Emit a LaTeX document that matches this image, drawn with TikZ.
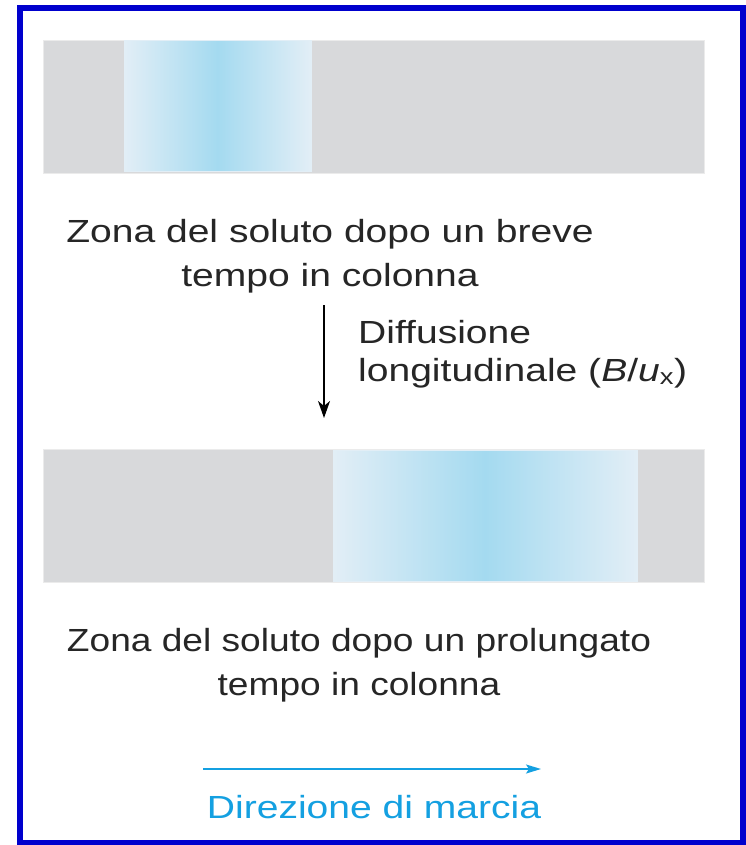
\documentclass[tikz,border=0pt]{standalone}
\usepackage{fontspec}
\setmainfont[FakeStretch=1.22]{Liberation Sans}
\newfontfamily\narrowsans[FakeStretch=1.16]{Liberation Sans}
\usetikzlibrary{arrows.meta}
\definecolor{frameblue}{RGB}{0,0,205}
\definecolor{bargray}{RGB}{216,217,219}
\definecolor{zoneedge}{RGB}{226,238,246}
\definecolor{zonepeak}{RGB}{164,218,240}
\definecolor{cyanarrow}{RGB}{20,160,225}
\tikzset{
  bar/.style={fill=bargray, draw=black!8, line width=0.8pt},
  zone/.style={left color=zoneedge, right color=zoneedge, middle color=zonepeak, draw=zoneedge, line width=1pt},
  label/.style={font=\fontsize{32}{44}\selectfont, text=black!85, inner sep=0pt},
}
\begin{document}
\begin{tikzpicture}[x=1pt,y=-1pt]
\useasboundingbox (0,0) rectangle (745,845);
\fill[white] (0,0) rectangle (745,845);
\draw[frameblue, line width=6pt] (19.5,8) rectangle (743,843);
% top column
\fill[bar] (43,40) rectangle (704,173);
\shade[zone] (124,41) rectangle (311,172);
\node[label, align=center, anchor=base] (t1) at (330,286) {Zona del soluto dopo un breve\\tempo in colonna};
\coordinate (a1s) at (324,305);
\coordinate (a1e) at (324,418);
\draw[line width=1.6pt, -{Stealth[length=17pt,width=12pt,inset=5pt]}] (a1s) -- (a1e);
\node[label, align=left, anchor=base west, font=\fontsize{32}{38}\selectfont] (diff) at (358,381) {Diffusione\\longitudinale (\textit{B}/\textit{u}\textsubscript{x})};
% bottom column
\fill[bar] (43,449) rectangle (704,582);
\shade[zone] (333,450) rectangle (637,581);
\node[label, align=center, anchor=base, font=\narrowsans\fontsize{32}{44}\selectfont] (t2) at (359,695) {Zona del soluto dopo un prolungato\\tempo in colonna};
% direction
\coordinate (d1) at (203,769);
\coordinate (d2) at (541,769);
\draw[cyanarrow, line width=1.5pt, -{Stealth[length=15pt,width=9pt,inset=3pt]}] (d1) -- (d2);
\node[label, text=cyanarrow, anchor=base] (dir) at (374,818) {Direzione di marcia};
\end{tikzpicture}
\end{document}
